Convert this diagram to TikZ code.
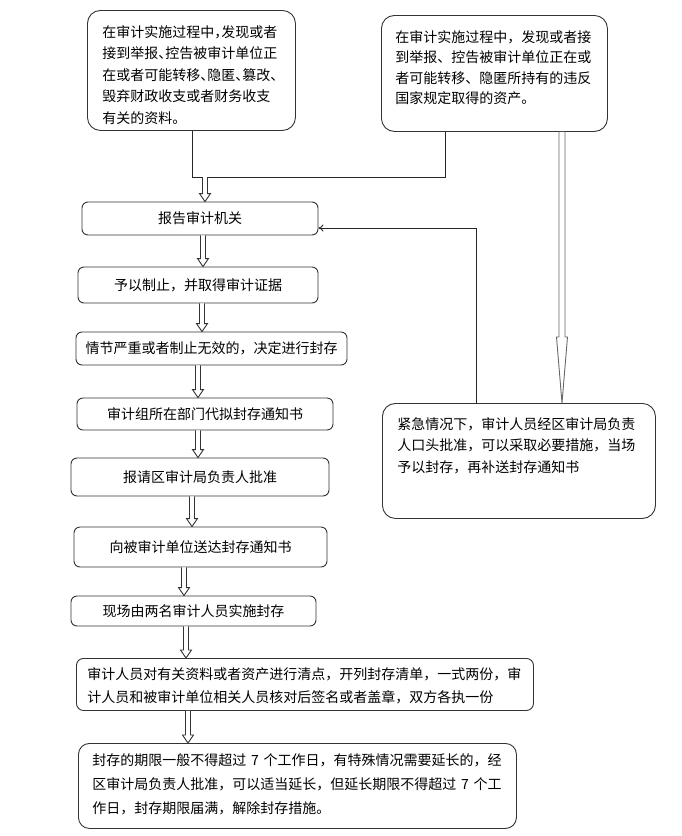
\documentclass[tikz,border=0pt]{standalone}
\usepackage{fontspec}
\newfontfamily\cjk{Noto Sans CJK SC}
\newfontfamily\cjkh[RawFeature=+halt]{Noto Sans CJK SC}
\usetikzlibrary{arrows.meta,calc}
\newcommand\hollowarr[3]{\path[harr] let \p1=(#2), \p2=(#3) in
  (#1pt-2.5pt,\y1) -- (#1pt-2.5pt,\y2+8pt) -- (#1pt-5.5pt,\y2+8pt) -- (#1pt,\y2)
  -- (#1pt+5.5pt,\y2+8pt) -- (#1pt+2.5pt,\y2+8pt) -- (#1pt+2.5pt,\y1);}
\begin{document}
\begin{tikzpicture}[x=1pt,y=-1pt,
  font=\cjk\fontsize{14pt}{20pt}\selectfont,
  box/.style={draw=black!80, line width=0.9pt, rounded corners=6pt, inner sep=0pt, fill=white},
  bigbox/.style={box, rounded corners=13pt, align=left, anchor=north west, inner ysep=0pt},
  harr/.style={draw=black!80, line width=0.9pt, fill=white, line join=miter},
  ln/.style={draw=black!85, line width=0.9pt}]
\useasboundingbox (0,0) rectangle (682,836);

% top boxes
\node[bigbox, text width=178pt, inner xsep=15pt, text height=27pt, text depth=93pt,
  font=\cjkh\fontsize{14pt}{21.5pt}\selectfont] (A) at (87,10)
  {在审计实施过程中，发现或者\\接到举报、控告被审计单位正\\在或者可能转移、隐匿、篡改、\\毁弃财政收支或者财务收支\\有关的资料。};
\node[bigbox, text width=198pt, inner xsep=14pt, text height=27pt, text depth=89pt,
  font=\cjk\fontsize{14pt}{20.3pt}\selectfont] (B) at (381,15)
  {在审计实施过程中，发现或者接\\到举报、控告被审计单位正在或\\者可能转移、隐匿所持有的违反\\国家规定取得的资产。};

% main chain
\node[box, minimum width=236pt, minimum height=33pt] (C) at (200,218.5) {报告审计机关};
\node[box, minimum width=240pt, minimum height=36pt] (D) at (198,285) {予以制止，并取得审计证据};
\node[box, minimum width=271pt, minimum height=33pt] (E) at (211.5,348.5) {情节严重或者制止无效的，决定进行封存};
\node[box, minimum width=256pt, minimum height=32pt] (F) at (205,414) {审计组所在部门代拟封存通知书};
\node[box, minimum width=258pt, minimum height=38pt] (G) at (200,477) {报请区审计局负责人批准};
\node[box, minimum width=253pt, minimum height=40pt] (H) at (200.5,547) {向被审计单位送达封存通知书};
\node[box, minimum width=245pt, minimum height=30pt] (I) at (193.5,611) {现场由两名审计人员实施封存};
\node[bigbox, rounded corners=7pt, text width=435pt, inner xsep=11pt, text height=20.6pt, text depth=31.4pt,
  font=\cjk\fontsize{14pt}{23.4pt}\selectfont] (J) at (76,658)
  {审计人员对有关资料或者资产进行清点，开列封存清单，一式两份，审\\计人员和被审计单位相关人员核对后签名或者盖章，双方各执一份};
\node[bigbox, rounded corners=11pt, text width=410pt, inner xsep=14pt, text height=22.3pt, text depth=62.7pt,
  font=\cjk\fontsize{14pt}{23.7pt}\selectfont] (K) at (78,743)
  {封存的期限一般不得超过 7 个工作日，有特殊情况需要延长的，经\\区审计局负责人批准，可以适当延长，但延长期限不得超过 7 个工\\作日，封存期限届满，解除封存措施。};

% emergency box
\node[bigbox, text width=243pt, inner xsep=15pt, text height=25.6pt, text depth=89.4pt,
  font=\cjk\fontsize{14pt}{21.7pt}\selectfont] (L) at (382,403)
  {紧急情况下，审计人员经区审计局负责\\人口头批准，可以采取必要措施，当场\\予以封存，再补送封存通知书};

% joining line under top boxes
\coordinate (jl) at (192,177);
\coordinate (jr) at (445,177);
\coordinate (ja) at (205,177);
\draw[ln] (A.south -| jl) -- (jl) -- (jr) -- (B.south -| jr);

% hollow arrows down the chain
\hollowarr{205}{ja}{C.north}
\hollowarr{203}{C.south}{D.north}
\hollowarr{202}{D.south}{E.north}
\hollowarr{198}{E.south}{F.north}
\hollowarr{198}{F.south}{G.north}
\hollowarr{192}{G.south}{H.north}
\hollowarr{184}{H.south}{I.north}
\hollowarr{186}{I.south}{J.north}
\hollowarr{188}{J.south}{K.north}

% long thin hollow arrow from B to L
\path[harr, draw=black!60] let \p1=(B.south), \p2=(L.north) in
  (559pt,\y1) -- (559pt,\y2+66pt) -- (556.5pt,\y2+66pt) -- (562pt,\y2)
  -- (567.5pt,\y2+66pt) -- (565pt,\y2+66pt) -- (565pt,\y1);

% return line from L to C
\coordinate (k) at (476,228);
\draw[ln, -{To[length=5pt,width=7pt]}] (L.north -| k) -- (k) -- (C.east |- k);
\end{tikzpicture}
\end{document}
